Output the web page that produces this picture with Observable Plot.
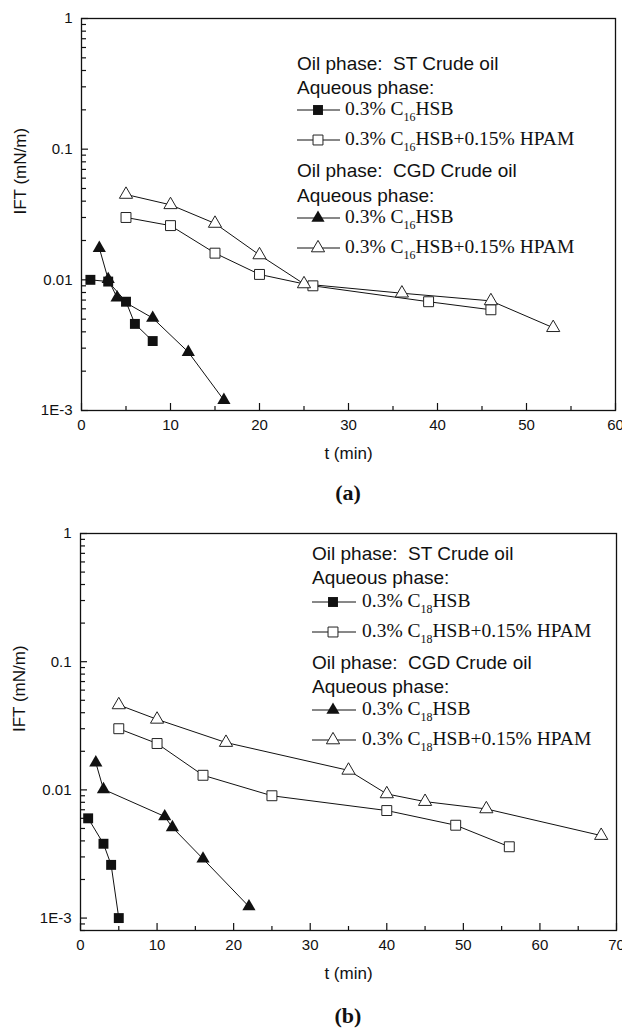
<!DOCTYPE html>
<html><head><meta charset="utf-8">
<script src="https://cdn.jsdelivr.net/npm/d3@7"></script>
<script src="https://cdn.jsdelivr.net/npm/@observablehq/plot@0.6"></script>
<style>
html,body{margin:0;padding:0;background:#fff;overflow:hidden;}
#page{position:relative;width:622px;height:1033px;}
.panel{position:relative;width:622px;}
.panel svg{display:block;}
.cap{font-family:"Liberation Serif","Times New Roman",serif;font-weight:bold;font-size:22px;text-align:center;height:35px;line-height:35px;color:#111;box-sizing:border-box;}
.row{position:absolute;white-space:pre;display:flex;align-items:center;height:0;color:#111;}
.sans{font-family:"Liberation Sans",Arial,sans-serif;font-size:19px;line-height:19px;}
.serif{font-family:"Liberation Serif","Times New Roman",serif;font-size:19.5px;line-height:19px;}
.sub{font-size:12px;position:relative;top:6px;}
</style></head><body><div id="page"></div>
<script>
// ---------- data: panel (a), C16HSB ----------
const a_ST_C16_t = [1, 3, 5, 6, 8];
const a_ST_C16_ift = [0.0100, 0.0097, 0.0068, 0.0046, 0.0034];
const a_ST_C16HPAM_t = [5, 10, 15, 20, 26, 39, 46];
const a_ST_C16HPAM_ift = [0.030, 0.026, 0.016, 0.011, 0.0090, 0.0068, 0.0059];
const a_CGD_C16_t = [2, 3, 4, 8, 12, 16];
const a_CGD_C16_ift = [0.0175, 0.0101, 0.0073, 0.0051, 0.0028, 0.0012];
const a_CGD_C16HPAM_t = [5, 10, 15, 20, 25, 36, 46, 53];
const a_CGD_C16HPAM_ift = [0.045, 0.0375, 0.027, 0.0155, 0.0093, 0.0079, 0.0069, 0.0043];

// ---------- data: panel (b), C18HSB ----------
const b_ST_C18_t = [1, 3, 4, 5];
const b_ST_C18_ift = [0.0060, 0.0038, 0.0026, 0.0010];
const b_ST_C18HPAM_t = [5, 10, 16, 25, 40, 49, 56];
const b_ST_C18HPAM_ift = [0.030, 0.023, 0.013, 0.0090, 0.0069, 0.0053, 0.0036];
const b_CGD_C18_t = [2, 3, 11, 12, 16, 22];
const b_CGD_C18_ift = [0.0163, 0.0101, 0.0062, 0.0051, 0.0029, 0.00123];
const b_CGD_C18HPAM_t = [5, 10, 19, 35, 40, 45, 53, 68];
const b_CGD_C18HPAM_ift = [0.046, 0.0355, 0.0234, 0.0142, 0.0093, 0.0081, 0.0071, 0.0044];

// ---------- axes ----------
const a_xTicks = [0, 10, 20, 30, 40, 50, 60];
const b_xTicks = [0, 10, 20, 30, 40, 50, 60, 70];
const yTickValues = [0.001, 0.01, 0.1, 1];
const yTickLabels = ["1E-3", "0.01", "0.1", "1"];
const xLabel = "t (min)";
const yLabel = "IFT (mN/m)";

// ---------- legend texts ----------
const oilST = "Oil phase:  ST Crude oil";
const oilCGD = "Oil phase:  CGD Crude oil";
const aqueous = "Aqueous phase:";

const zip = (t, v) => t.map((x, i) => ({t: x, ift: v[i]}));

function makePanel(cfg) {
  const fw = 622 - cfg.marginLeft - cfg.marginRight;
  const fh = cfg.height - cfg.marginTop - cfg.marginBottom;
  const xMax = cfg.xTicks[cfg.xTicks.length - 1];
  const xMinor = d3.range(5, xMax, 10);
  const yMinor = [];
  for (const dec of [0.0001, 0.001, 0.01, 0.1]) for (let k = 2; k <= 9; k++) {
    const v = +(dec * k).toPrecision(3);
    if (v >= cfg.yDomain[0] && v < 1) yMinor.push(v);
  }
  const marks = [
    Plot.tickX(xMinor, {x: d => d, insetTop: fh - 4, stroke: "#111", strokeWidth: 1.2}),
    Plot.tickX(cfg.xTicks, {x: d => d, insetTop: fh - 7, stroke: "#111", strokeWidth: 1.2}),
    Plot.tickY(yMinor, {y: d => d, insetRight: fw - 5, stroke: "#111", strokeWidth: 1.2}),
    Plot.tickY(yTickValues, {y: d => d, insetRight: fw - 7, stroke: "#111", strokeWidth: 1.2}),
    Plot.axisX({ticks: cfg.xTicks, tickSize: 0, tickPadding: 9, fontSize: 15, label: null, tickFormat: d => String(d)}),
    Plot.axisY({ticks: yTickValues, tickSize: 0, tickPadding: 9, fontSize: 15, label: null,
      tickFormat: d => yTickLabels[yTickValues.indexOf(d)]}),
    Plot.text([xLabel], {frameAnchor: "bottom", dy: 48, fontSize: 17, text: d => d, fill: "#111"}),
    Plot.text([yLabel], {frameAnchor: "left", dx: -61, rotate: -90, fontSize: 17, text: d => d, fill: "#111"})
  ];
  for (const s of cfg.series) {
    marks.push(Plot.line(s.data, {x: "t", y: "ift", stroke: "#111", strokeWidth: 1}));
  }
  for (const s of cfg.series) {
    marks.push(Plot.dot(s.data, {x: "t", y: "ift", symbol: s.symbol, r: s.symbol === "square" ? 5.6 : 4.9,
      fill: s.filled ? "#111" : "white", stroke: s.filled ? "none" : "#222", strokeWidth: 1}));
  }
  marks.push(Plot.frame({stroke: "#111", strokeWidth: 1.3}));
  return Plot.plot({
    width: 622, height: cfg.height,
    marginTop: cfg.marginTop, marginBottom: cfg.marginBottom,
    marginLeft: cfg.marginLeft, marginRight: cfg.marginRight,
    style: {fontFamily: "'Liberation Sans', Arial, sans-serif", fontSize: "15px", color: "#111", background: "white"},
    x: {domain: [0, xMax], axis: null},
    y: {type: "log", domain: cfg.yDomain, axis: null},
    marks
  });
}

function symSvg(symbol, filled, w, cx) {
  const ns = "http://www.w3.org/2000/svg";
  const svg = document.createElementNS(ns, "svg");
  svg.setAttribute("width", w); svg.setAttribute("height", 16);
  svg.style.display = "block";
  const ln = document.createElementNS(ns, "line");
  ln.setAttribute("x1", 0); ln.setAttribute("x2", w); ln.setAttribute("y1", 8); ln.setAttribute("y2", 8);
  ln.setAttribute("stroke", "#111"); ln.setAttribute("stroke-width", 1);
  svg.appendChild(ln);
  const p = document.createElementNS(ns, "path");
  const size = symbol === "square" ? Math.PI * 5.6 * 5.6 : Math.PI * 4.9 * 4.9;
  const sym = symbol === "square" ? d3.symbolSquare : d3.symbolTriangle;
  p.setAttribute("d", d3.symbol(sym, size)());
  p.setAttribute("transform", `translate(${cx},8)`);
  p.setAttribute("fill", filled ? "#111" : "white");
  p.setAttribute("stroke", filled ? "none" : "#222");
  svg.appendChild(p);
  return svg;
}

function addLegend(container, left, centers, items, lineW, cx, gap) {
  items.forEach((it, i) => {
    const row = document.createElement("div");
    row.className = "row";
    row.style.left = left + "px";
    row.style.top = centers[i] + "px";
    if (it.symbol) {
      row.appendChild(symSvg(it.symbol, it.filled, lineW, cx));
      const sp = document.createElement("span");
      sp.className = "serif";
      sp.style.marginLeft = gap + "px";
      sp.innerHTML = it.html;
      row.appendChild(sp);
    } else {
      const sp = document.createElement("span");
      sp.className = "sans";
      sp.textContent = it.text;
      row.appendChild(sp);
    }
    container.appendChild(row);
  });
}

const page = document.getElementById("page");

function legendItems(n) {
  const base = `0.3% C<span class="sub">${n}</span>HSB`;
  return [
    {text: oilST}, {text: aqueous},
    {symbol: "square", filled: true, html: base},
    {symbol: "square", filled: false, html: base + "+0.15% HPAM"},
    {text: oilCGD}, {text: aqueous},
    {symbol: "triangle", filled: true, html: base},
    {symbol: "triangle", filled: false, html: base + "+0.15% HPAM"}
  ];
}

// panel (a)
const pa = document.createElement("div"); pa.className = "panel";
pa.appendChild(makePanel({
  height: 475, marginTop: 18, marginBottom: 65, marginLeft: 81, marginRight: 7,
  xTicks: a_xTicks, yDomain: [0.001, 1],
  series: [
    {data: zip(a_ST_C16_t, a_ST_C16_ift), symbol: "square", filled: true},
    {data: zip(a_ST_C16HPAM_t, a_ST_C16HPAM_ift), symbol: "square", filled: false},
    {data: zip(a_CGD_C16_t, a_CGD_C16_ift), symbol: "triangle", filled: true},
    {data: zip(a_CGD_C16HPAM_t, a_CGD_C16HPAM_ift), symbol: "triangle", filled: false}
  ]
}));
addLegend(pa, 297, [63, 87, 110, 140, 170, 195, 218, 248], legendItems(16), 43, 21, 5);
page.appendChild(pa);
const ca = document.createElement("div"); ca.className = "cap";
ca.style.paddingLeft = "81px"; ca.style.paddingRight = "7px"; ca.textContent = "(a)";
page.appendChild(ca);

// panel (b)
const pb = document.createElement("div"); pb.className = "panel";
pb.appendChild(makePanel({
  height: 488, marginTop: 23, marginBottom: 68, marginLeft: 80, marginRight: 6,
  xTicks: b_xTicks, yDomain: [0.0008, 1],
  series: [
    {data: zip(b_ST_C18_t, b_ST_C18_ift), symbol: "square", filled: true},
    {data: zip(b_ST_C18HPAM_t, b_ST_C18HPAM_ift), symbol: "square", filled: false},
    {data: zip(b_CGD_C18_t, b_CGD_C18_ift), symbol: "triangle", filled: true},
    {data: zip(b_CGD_C18HPAM_t, b_CGD_C18HPAM_ift), symbol: "triangle", filled: false}
  ]
}));
addLegend(pb, 312, [43, 67, 92, 122, 152, 176, 200, 230], legendItems(18), 44, 21, 6);
page.appendChild(pb);
const cb = document.createElement("div"); cb.className = "cap";
cb.style.paddingLeft = "80px"; cb.style.paddingRight = "6px"; cb.textContent = "(b)";
page.appendChild(cb);
</script></body></html>
